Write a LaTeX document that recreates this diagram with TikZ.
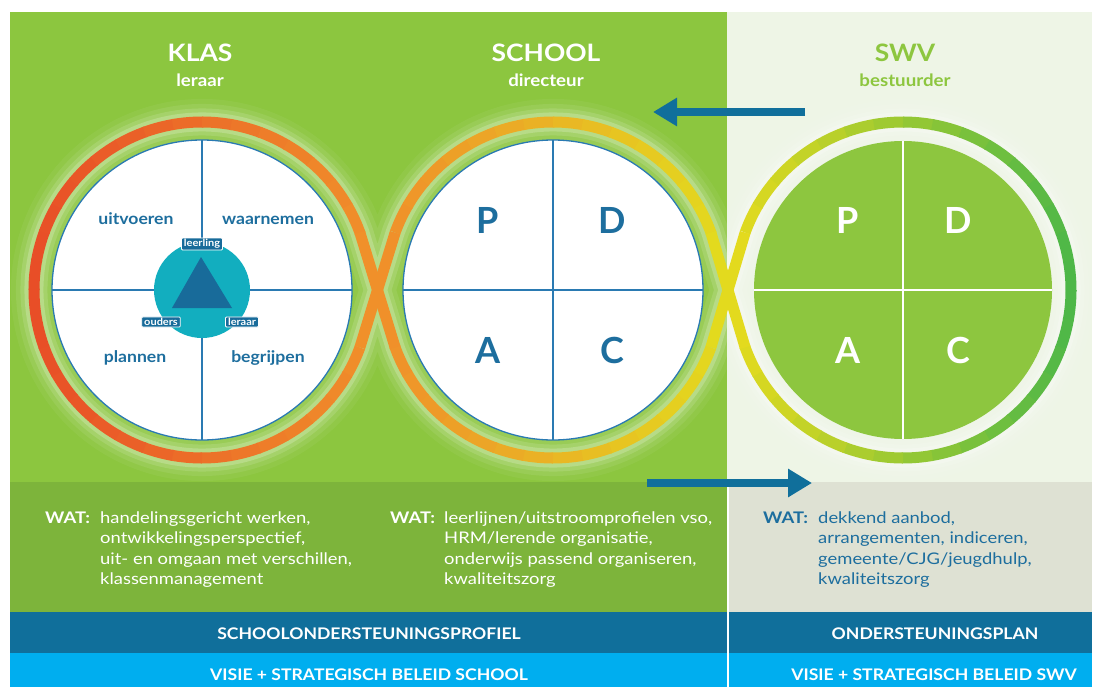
\documentclass[tikz,border=0pt]{standalone}
\usepackage{fontspec}
\setmainfont{Lato}
\newfontfamily\widefont{Lato}[FakeStretch=1.1]
\newfontfamily\widerfont{Lato}[FakeStretch=1.15]
\usetikzlibrary{arrows.meta}
\usetikzlibrary{positioning}

\definecolor{bggreen}{HTML}{8CC63F}
\definecolor{bglight}{HTML}{EEF5E6}
\definecolor{watgreen}{HTML}{7DB43B}
\definecolor{watgrey}{HTML}{DEE1D3}
\definecolor{darkblue}{HTML}{106F9B}
\definecolor{skyblue}{HTML}{00AEEF}
\definecolor{lineblue}{HTML}{2A7AB2}
\definecolor{textblue}{HTML}{1D6E9E}
\definecolor{leerteal}{HTML}{12AEBF}
\definecolor{triblue}{HTML}{186B9A}
\definecolor{ringred}{HTML}{E84E27}
\definecolor{ringorange}{HTML}{F0902A}
\definecolor{ringyellow}{HTML}{E3DA1E}
\definecolor{ringgreen}{HTML}{4DB748}
\definecolor{swvgreen}{HTML}{8DC63F}

\tikzset{
  ring/.style={line width=11pt},
  glow/.style={white, line join=round},
  head/.style={font=\widefont\fontsize{24}{28}\selectfont\bfseries, inner sep=0pt, anchor=base},
  sub/.style={font=\widefont\fontsize{17}{20}\selectfont\bfseries, inner sep=0pt, anchor=base},
  quad/.style={font=\widefont\fontsize{16}{19}\selectfont\bfseries, text=textblue, inner sep=0pt, anchor=base},
  pdca/.style={font=\fontsize{36}{40}\selectfont\bfseries, inner sep=0pt, anchor=base},
  tag/.style={font=\widefont\fontsize{10}{11}\selectfont\bfseries, text=white, fill=triblue, draw=white,
    line width=0.8pt, rounded corners=1pt, inner xsep=2.5pt, inner ysep=1.3pt},
  watlbl/.style={font=\widerfont\fontsize{16}{20.5}\selectfont\bfseries, inner sep=0pt, anchor=base west},
  wattxt/.style={font=\widerfont\fontsize{16}{20.5}\selectfont, align=left, inner sep=0pt, anchor=base west},
  band/.style={font=\widefont\fontsize{16}{18}\selectfont\bfseries, text=white, inner sep=0pt, anchor=base},
  flow/.style={darkblue, line width=8pt, -{Triangle[length=24pt, width=27pt]}}
}

\newcommand\figureeight{(kA) arc[start angle=20, end angle=340, radius=168] -- (sB)
  arc[start angle=160, end angle=20, radius=168] -- (wA)
  arc[start angle=200, end angle=520, radius=168] -- (sD)
  arc[start angle=340, end angle=200, radius=168] -- cycle}

\begin{document}
\begin{tikzpicture}[x=1pt, y=-1pt]
 \useasboundingbox (0,0) rectangle (1094,687);
 % panels and bands
 \fill[bggreen] (10,12) rectangle (727,482);
 \fill[bglight] (727,12) rectangle (1092,482);
 \fill[watgreen] (10,482) rectangle (727,612);
 \fill[watgrey] (727,482) rectangle (1092,612);
 \fill[darkblue] (10,612) rectangle (1092,653);
 \fill[skyblue] (10,653) rectangle (1092,687);
 \draw[white, line width=1.5pt] (728,482) -- (728,687);

 % centres and crossing points
 \coordinate (klasc) at (202,290);
 \coordinate (schoolc) at (553,290);
 \coordinate (swvc) at (903,290);
 \path (klasc) ++(20:168) coordinate (kA);
 \path (klasc) ++(340:168) coordinate (kB);
 \path (schoolc) ++(20:168) coordinate (sA);
 \path (schoolc) ++(160:168) coordinate (sB);
 \path (schoolc) ++(200:168) coordinate (sC);
 \path (schoolc) ++(340:168) coordinate (sD);
 \path (swvc) ++(200:168) coordinate (wA);
 \path (swvc) ++(160:168) coordinate (wB);

 % glow round the loop
 \foreach \w/\o in {46/0.05, 36/0.08, 27/0.12, 19/0.2}
   \draw[glow, line width=\w pt, opacity=\o] \figureeight;

 % rings, coloured from left to right
 \foreach \c/\from/\n/\lc/\rc in {klasc/20/32/ringred/ringorange,
     schoolc/20/14/ringorange/ringyellow, schoolc/200/14/ringorange/ringyellow,
     swvc/200/32/ringyellow/ringgreen}
   \foreach \i in {1,...,\n}{
     \pgfmathsetmacro\a{\from+10*(\i-1)}
     \pgfmathtruncatemacro\t{50*(1+cos(\a+5))}
     \draw[ring, draw=\rc!\t!\lc] (\c) ++(\a:168) arc[start angle=\a, delta angle=10.5, radius=168];
   }
 \draw[ring, ringorange] (kB) -- (sB);
 \draw[ring, ringorange] (sC) -- (kA);
 \draw[ring, ringyellow] (sA) -- (wA);
 \draw[ring, ringyellow] (wB) -- (sD);

 % discs
 \foreach \c in {klasc, schoolc}{
   \draw[lineblue, fill=white, line width=1.3pt] (\c) circle[radius=150];
   \draw[lineblue, line width=1.5pt] (\c) ++(-150,0) -- ++(300,0);
   \draw[lineblue, line width=1.5pt] (\c) ++(0,-150) -- ++(0,300);
 }
 \fill[swvgreen] (swvc) circle[radius=149];
 \draw[white, line width=2pt] (swvc) ++(-149,0) -- ++(298,0);
 \draw[white, line width=2pt] (swvc) ++(0,-149) -- ++(0,298);

 % leerling triangle
 \fill[leerteal] (klasc) circle[radius=48];
 \fill[triblue] (201,257) -- (232,308) -- (172,308) -- cycle;
 \node[tag] (leerling) at (202,244) {leerling};
 \node[tag] (ouders) at (161,322) {ouders};
 \node[tag] (leraartag) at (242,322) {leraar};

 % quadrant labels
 \node[quad] (uitvoeren) at (136,224) {uitvoeren};
 \node[quad] (waarnemen) at (268,224) {waarnemen};
 \node[quad] (plannen) at (135,362) {plannen};
 \node[quad] (begrijpen) at (268,362) {begrijpen};
 \node[pdca, text=textblue] (schoolP) at (488,233) {P};
 \node[pdca, text=textblue] (schoolD) at (612,233) {D};
 \node[pdca, text=textblue] (schoolA) at (488,363) {A};
 \node[pdca, text=textblue] (schoolC) at (612,363) {C};
 \node[pdca, text=white] (swvP) at (848,233) {P};
 \node[pdca, text=white] (swvD) at (958,233) {D};
 \node[pdca, text=white] (swvA) at (848,363) {A};
 \node[pdca, text=white] (swvC) at (958,363) {C};

 % headings
 \node[head, text=white] (klas) at (200,62) {KLAS};
 \node[sub, text=white] (leraar) at (200,87) {leraar};
 \node[head, text=white] (school) at (546,62) {SCHOOL};
 \node[sub, text=white] (directeur) at (546,87) {directeur};
 \node[head, text=swvgreen] (swv) at (905,62) {SWV};
 \node[sub, text=swvgreen] (bestuurder) at (905,87) {bestuurder};

 % arrows
 \coordinate (upfrom) at (805,112);
 \coordinate (upto) at (653,112);
 \coordinate (downfrom) at (647,483);
 \coordinate (downto) at (812,483);
 \draw[flow] (upfrom) -- (upto);
 \draw[flow] (downfrom) -- (downto);

 % WAT (base anchor sits on the last line)
 \node[watlbl, text=white] (watklas) at (45,523) {WAT:};
 \node[wattxt, text=white] (txtklas) at (100,584.5) {handelingsgericht werken,\\ontwikkelingsperspectief,\\uit- en omgaan met verschillen,\\klassenmanagement};
 \node[watlbl, text=white] (watschool) at (390,523) {WAT:};
 \node[wattxt, text=white] (txtschool) at (444,584.5) {leerlijnen/uitstroomprofielen vso,\\HRM/lerende organisatie,\\onderwijs passend organiseren,\\kwaliteitszorg};
 \node[watlbl, text=textblue] (watswv) at (763,523) {WAT:};
 \node[wattxt, text=textblue] (txtswv) at (818,584.5) {dekkend aanbod,\\arrangementen, indiceren,\\gemeente/CJG/jeugdhulp,\\kwaliteitszorg};

 % bands
 \node[band] (sop) at (369,639) {SCHOOLONDERSTEUNINGSPROFIEL};
 \node[band] (op) at (935,639) {ONDERSTEUNINGSPLAN};
 \node[band] (visschool) at (369,680) {VISIE + STRATEGISCH BELEID SCHOOL};
 \node[band] (visswv) at (934,680) {VISIE + STRATEGISCH BELEID SWV};
\end{tikzpicture}
\end{document}
